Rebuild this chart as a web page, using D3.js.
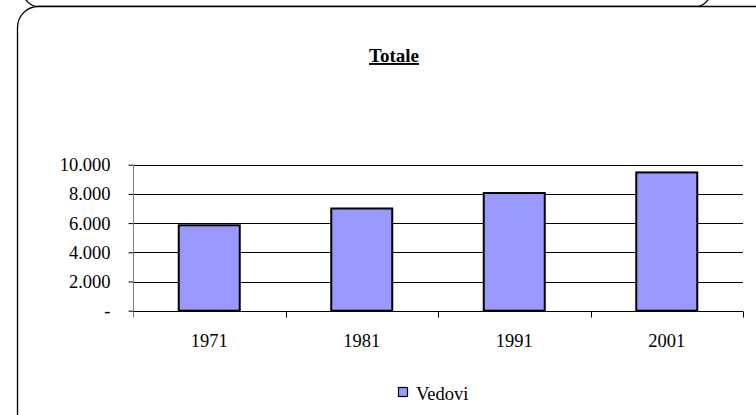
<!DOCTYPE html>
<html>
<head>
<meta charset="utf-8">
<script src="https://cdn.jsdelivr.net/npm/d3@7"></script>
<style>
  body { margin: 0; background: #fff; }
  svg, svg text { font-family: "Liberation Serif", "Times New Roman", serif; }
  svg { display: block; }
</style>
</head>
<body>
<script>
'use strict';
(function () {
  const years = ["1971", "1981", "1991", "2001"];
  const vedovi = [5850, 7000, 8060, 9470];
  const yTicks = [0, 2000, 4000, 6000, 8000, 10000];
  const seriesName = "Vedovi";
  const title = "Totale";
  const serif = '"Liberation Serif", "Times New Roman", serif';

  const svg = d3.select('body').append('svg')
    .attr('width', 756)
    .attr('height', 415);

  // frames (upper box bottom edge + main rounded box)
  svg.append('rect')
    .attr('x', 23.5).attr('y', -200.5)
    .attr('width', 687).attr('height', 207)
    .attr('rx', 15).attr('ry', 15)
    .attr('fill', 'none').attr('stroke', '#000').attr('stroke-width', 1.3);
  svg.append('rect')
    .attr('x', 17.5).attr('y', 6.5)
    .attr('width', 770).attr('height', 430)
    .attr('rx', 21).attr('ry', 21)
    .attr('fill', '#fff').attr('stroke', '#000').attr('stroke-width', 1.3);

  const plot = { left: 133, right: 743, top: 164.7, bottom: 310.7 };

  const x = d3.scaleBand()
    .domain(years)
    .range([plot.left, plot.right])
    .paddingInner(0.6)
    .paddingOuter(0.3);

  const y = d3.scaleLinear()
    .domain([0, 10000])
    .range([plot.bottom, plot.top]);

  const loc = d3.formatLocale({ decimal: ",", thousands: ".", grouping: [3], currency: ["", ""] });
  const fmt = loc.format(",d");

  // gridlines
  svg.append('g').selectAll('line')
    .data(yTicks.filter(d => d > 0))
    .enter().append('line')
    .attr('x1', plot.left).attr('x2', plot.right)
    .attr('y1', d => Math.round(y(d)) + 0.5)
    .attr('y2', d => Math.round(y(d)) + 0.5)
    .attr('stroke', '#000').attr('stroke-width', 1);

  // y axis
  const yAxis = d3.axisLeft(y)
    .tickValues(yTicks)
    .tickSize(5)
    .tickPadding(18)
    .tickFormat(d => d === 0 ? "-" : fmt(d));
  const gy = svg.append('g')
    .attr('transform', 'translate(' + (plot.left + 0.5) + ',0)')
    .call(yAxis)
    .attr('font-family', serif)
    .attr('font-size', 18.5);
  gy.select('.domain').remove();
  gy.selectAll('.tick line').attr('stroke', '#000');
  gy.selectAll('.tick text').attr('fill', '#000');
  svg.append('line')
    .attr('x1', plot.left + 0.5).attr('x2', plot.left + 0.5)
    .attr('y1', plot.top).attr('y2', plot.bottom + 5)
    .attr('stroke', '#808080').attr('stroke-width', 1);

  // bars
  svg.append('g').selectAll('rect')
    .data(years)
    .enter().append('rect')
    .attr('x', d => x(d))
    .attr('y', (d, i) => y(vedovi[i]))
    .attr('width', x.bandwidth())
    .attr('height', (d, i) => y(0) - y(vedovi[i]))
    .attr('fill', '#9999FF')
    .attr('stroke', '#000')
    .attr('stroke-width', 2);

  // x axis
  const xb = Math.round(y(0)) + 0.5;
  svg.append('line')
    .attr('x1', plot.left).attr('x2', plot.right)
    .attr('y1', xb).attr('y2', xb)
    .attr('stroke', '#000').attr('stroke-width', 1);
  const bounds = d3.range(years.length + 1).map(i => plot.left + i * x.step());
  svg.append('g').selectAll('line')
    .data(bounds)
    .enter().append('line')
    .attr('x1', d => Math.round(d) + 0.5).attr('x2', d => Math.round(d) + 0.5)
    .attr('y1', xb).attr('y2', xb + 6)
    .attr('stroke', (d, i) => i === 0 ? '#808080' : '#000');
  svg.append('g').selectAll('text')
    .data(years)
    .enter().append('text')
    .attr('x', d => x(d) + x.bandwidth() / 2)
    .attr('y', 347)
    .attr('text-anchor', 'middle')
    .attr('font-family', serif)
    .attr('font-size', 18.5)
    .text(d => d);

  // title
  svg.append('text')
    .attr('x', 394)
    .attr('y', 62)
    .attr('text-anchor', 'middle')
    .attr('font-family', serif)
    .attr('font-size', 19)
    .attr('font-weight', 'bold')
    .attr('text-decoration', 'underline')
    .text(title);

  // legend
  svg.append('rect')
    .attr('x', 398.5).attr('y', 387.5)
    .attr('width', 9).attr('height', 9)
    .attr('fill', '#9999FF').attr('stroke', '#000').attr('stroke-width', 1.2);
  svg.append('text')
    .attr('x', 416)
    .attr('y', 400)
    .attr('font-family', serif)
    .attr('font-size', 18.5)
    .text(seriesName);
})();
</script>
</body>
</html>
